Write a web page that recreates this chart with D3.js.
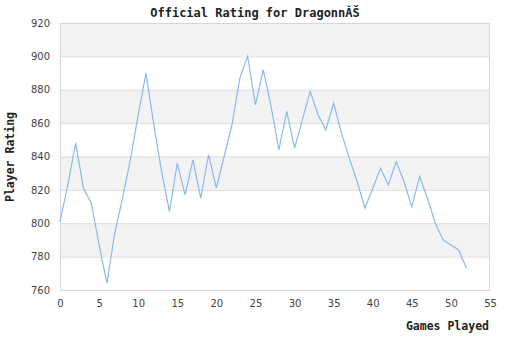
<!DOCTYPE html>
<html><head><meta charset="utf-8">
<script src="https://cdn.jsdelivr.net/npm/d3@7"></script>
<style>body{margin:0;background:#fff}</style>
</head><body>
<svg id="c" width="510" height="340"></svg>
<script>
const games = d3.range(0, 53);
const ratings = [801,823,848,821,812,787,764,794,815,838,865,890,859,831,807,836,817,838,815,841,821,840,859,887,900,871,892,870,844,867,845,862,879,865,856,872,854,839,825,809,821,833,823,837,825,810,828,815,800,790,787,784,773];
const yTicks = [760,780,800,820,840,860,880,900,920];
const xTicks = [0,5,10,15,20,25,30,35,40,45,50,55];
const title = "Official Rating for DragonnĂŠ";
const xTitle = "Games Played";
const yTitle = "Player Rating";

const svg = d3.select("#c");
const L=60, R=490, T=23, B=290;
const x = d3.scaleLinear().domain([0,55]).range([L,R]);
const y = d3.scaleLinear().domain([760,920]).range([B,T]);

const bands = d3.range(0, yTicks.length-1).map(i=>[yTicks[i], yTicks[i+1]]);
svg.selectAll("rect.band").data(bands).enter().append("rect")
  .attr("x", L).attr("width", R-L)
  .attr("y", d=>y(d[1])).attr("height", d=>y(d[0])-y(d[1]))
  .attr("fill", (d,i)=> i%2===1 ? "#f3f3f3" : "#ffffff");

svg.selectAll("line.grid").data(yTicks).enter().append("line")
  .attr("x1", L).attr("x2", R).attr("y1", d=>y(d)+0.5).attr("y2", d=>y(d)+0.5)
  .attr("stroke", "#dddddd").attr("stroke-width", 1);

svg.append("rect").attr("x", L+0.5).attr("y", T+0.5).attr("width", R-L-1).attr("height", B-T)
  .attr("fill","none").attr("stroke","#d6d6d6");

const line = d3.line().x((d,i)=>x(games[i])).y(d=>y(d));
svg.append("path").datum(ratings).attr("d", line)
  .attr("fill","none").attr("stroke","#88bbee").attr("stroke-width",1.2);

const yAxis = d3.axisLeft(y).tickValues(yTicks).tickSize(0).tickPadding(10);
const gy = svg.append("g").attr("transform",`translate(${L},0)`).call(yAxis);
const xAxis = d3.axisBottom(x).tickValues(xTicks).tickSize(0).tickPadding(10);
const gx = svg.append("g").attr("transform",`translate(0,${B})`).call(xAxis);
[gy,gx].forEach(g=>{
  g.select(".domain").remove();
  g.selectAll("text").attr("font-family","DejaVu Sans").attr("font-size",10).attr("fill","#444");
});

svg.append("text").attr("x",255).attr("y",17).attr("text-anchor","middle")
  .attr("font-family","DejaVu Sans Mono").attr("font-weight","bold").attr("font-size",12).attr("fill","#222").text(title);
svg.append("text").attr("x",489).attr("y",330).attr("text-anchor","end")
  .attr("font-family","DejaVu Sans Mono").attr("font-weight","bold").attr("font-size",11.5).attr("fill","#222").text(xTitle);
svg.append("text").attr("transform","translate(14,157) rotate(-90)").attr("text-anchor","middle")
  .attr("font-family","DejaVu Sans Mono").attr("font-weight","bold").attr("font-size",11.5).attr("fill","#222").text(yTitle);
</script>
</body></html>
